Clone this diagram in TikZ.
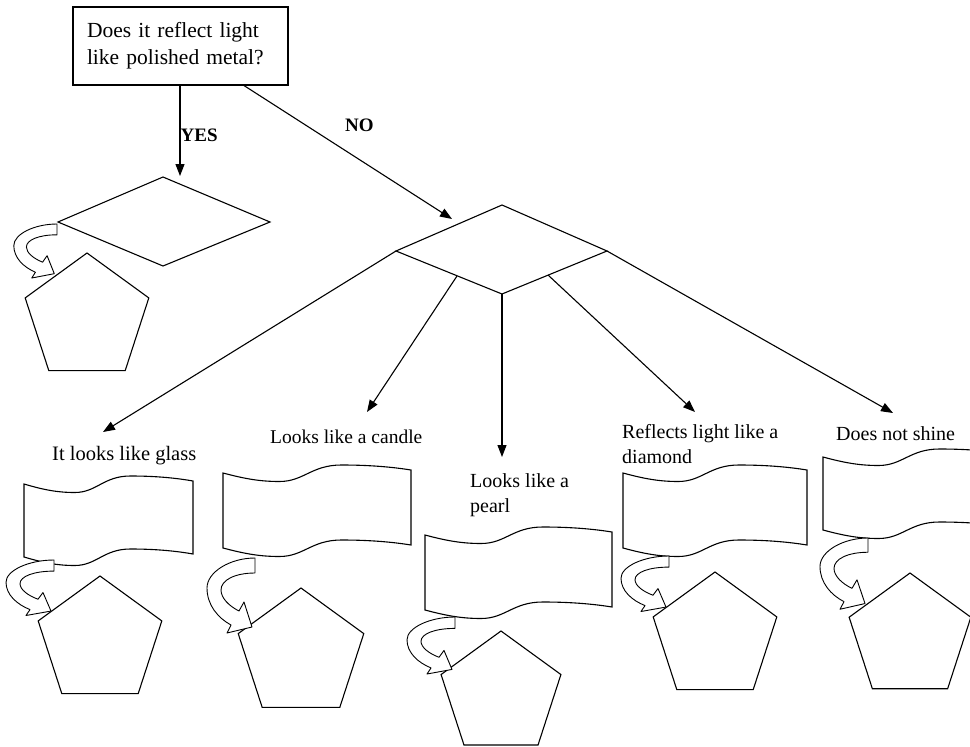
\documentclass[tikz,border=0pt]{standalone}
\usepackage{fontspec}
\setmainfont{Liberation Serif}
\usetikzlibrary{shapes.geometric,arrows.meta}
\tikzset{
  ln/.style={line width=1.1pt, draw=black},
  thinln/.style={line width=0.9pt, draw=black, line join=round},
  arr/.style={ln, -{Triangle[length=12pt,width=9pt]}},
  penta/.style={ln, regular polygon, regular polygon sides=5, inner sep=0pt, outer sep=0pt, fill=white},
  lbl/.style={font=\fontsize{20}{25}\selectfont, inner sep=0pt, align=left},
  yn/.style={font=\bfseries\fontsize{19}{20}\selectfont, inner sep=0pt},
  qbox/.style={ln, fill=white, text width=187pt, align=left, inner xsep=14pt, inner ysep=0pt,
    minimum height=78pt, font=\fontsize{21.5}{27}\selectfont},
  pics/banner/.style 2 args={code={
    \draw[ln, fill=white] (0,0)
      .. controls ({0.12*#1},6) and ({0.2*#1},8.5) .. ({0.3*#1},8.5)
      .. controls ({0.43*#1},8.5) and ({0.47*#1},-8) .. ({0.63*#1},-8)
      .. controls ({0.78*#1},-8) and ({0.9*#1},-6) .. (#1,-3)
      -- (#1,{#2-3})
      .. controls ({0.9*#1},{#2-6}) and ({0.78*#1},{#2-8}) .. ({0.63*#1},{#2-8})
      .. controls ({0.47*#1},{#2-8}) and ({0.43*#1},{#2+8.5}) .. ({0.3*#1},{#2+8.5})
      .. controls ({0.2*#1},{#2+8.5}) and ({0.12*#1},{#2+6}) .. (0,#2)
      -- cycle;
  }},
  pics/curvarrow/.style={code={
    \draw[thinln, fill=white] (0,0)
      .. controls (-25,0) and (-48,14) .. (-48,30)
      .. controls (-48,47) and (-37,60) .. (-24,67)
      -- (-28,75) -- (-3,69) -- (-11,44) -- (-16,53)
      .. controls (-26,48) and (-34,40) .. (-34,32)
      .. controls (-34,22) and (-20,15) .. (0,15) -- cycle;
  }},
}
\begin{document}
\begin{tikzpicture}[x=1pt,y=-1pt]
\useasboundingbox (0,0) rectangle (970,747);
\clip (0,0) rectangle (970,747);
\fill[white] (0,0) rectangle (970,747);

% question box
\node[qbox] (Q) at (180.5,46) {Does it reflect light\\like polished metal?};

% diamonds
\coordinate (LDt) at (163,177);
\coordinate (LDr) at (270,222);
\coordinate (LDb) at (163,266);
\coordinate (LDl) at (58,222);
\draw[ln, fill=white] (LDt) -- (LDr) -- (LDb) -- (LDl) -- cycle;

\coordinate (BDt) at (502,205);
\coordinate (BDr) at (607,251);
\coordinate (BDb) at (502,294);
\coordinate (BDl) at (396,251);
\draw[ln, fill=white] (BDt) -- (BDr) -- (BDb) -- (BDl) -- cycle;

% banners
\pic (B1) at (24,484) {banner={169}{73}};
\pic (B2) at (223,473) {banner={188}{75}};
\pic (B3) at (425,535) {banner={187}{75}};
\pic (B4) at (623,473) {banner={184}{75}};
\pic (B5) at (823,457) {banner={185}{73}};

% pentagons
\node[penta, minimum size=130pt] (P0) at (87,318) {};
\node[penta, minimum size=130pt] (P1) at (100,641) {};
\node[penta, minimum size=132pt] (P2) at (301,654) {};
\node[penta, minimum size=126pt] (P3) at (501,694) {};
\node[penta, minimum size=130pt] (P4) at (715,637) {};
\node[penta, minimum size=128pt] (P5) at (910,637) {};

% curved arrows
\pic[xscale=0.9, yscale=0.72] (A0) at (57,224) {curvarrow};
\pic[yscale=0.74] (A1) at (54,560) {curvarrow};
\pic (A2) at (255,558) {curvarrow};
\pic[yscale=0.76] (A3) at (455,617) {curvarrow};
\pic[yscale=0.74] (A4) at (669,556) {curvarrow};
\pic[yscale=0.95] (A5) at (868,538) {curvarrow};

% connectors
\coordinate (yesend) at (180,176);
\coordinate (yesstart) at (Q.south -| yesend);
\draw[arr] (yesstart) -- (yesend);
\coordinate (nostart) at (Q.south -| 244,0);
\coordinate (noend) at (452,219);
\draw[arr] (nostart) -- (noend);

\coordinate (e2) at (457,276);
\coordinate (e4) at (548,275);
\coordinate (t1) at (103,432);
\coordinate (t2) at (367,412);
\coordinate (t3) at (502,457);
\coordinate (t4) at (695,412);
\coordinate (t5) at (893,413);
\draw[arr] (BDl) -- (t1);
\draw[arr] (e2) -- (t2);
\draw[arr] (BDb) -- (t3);
\draw[arr] (e4) -- (t4);
\draw[arr] (BDr) -- (t5);

% labels
\node[yn, anchor=base west] (yes) at (180.5,141) {YES};
\node[yn, anchor=base west] (no) at (345,131) {NO};
\node[lbl, anchor=base west, font=\fontsize{20.5}{25}\selectfont] (L1) at (52,460) {It looks like glass};
\node[lbl, anchor=base west, font=\fontsize{19.5}{25}\selectfont] (L2) at (270,443) {Looks like a candle};
\node[lbl, anchor=north west] (L3) at (470,473) {Looks like a\\pearl};
\node[lbl, anchor=north west] (L4) at (622,424) {Reflects light like a\\diamond};
\node[lbl, anchor=base west] (L5) at (836,440) {Does not shine};
\end{tikzpicture}
\end{document}
